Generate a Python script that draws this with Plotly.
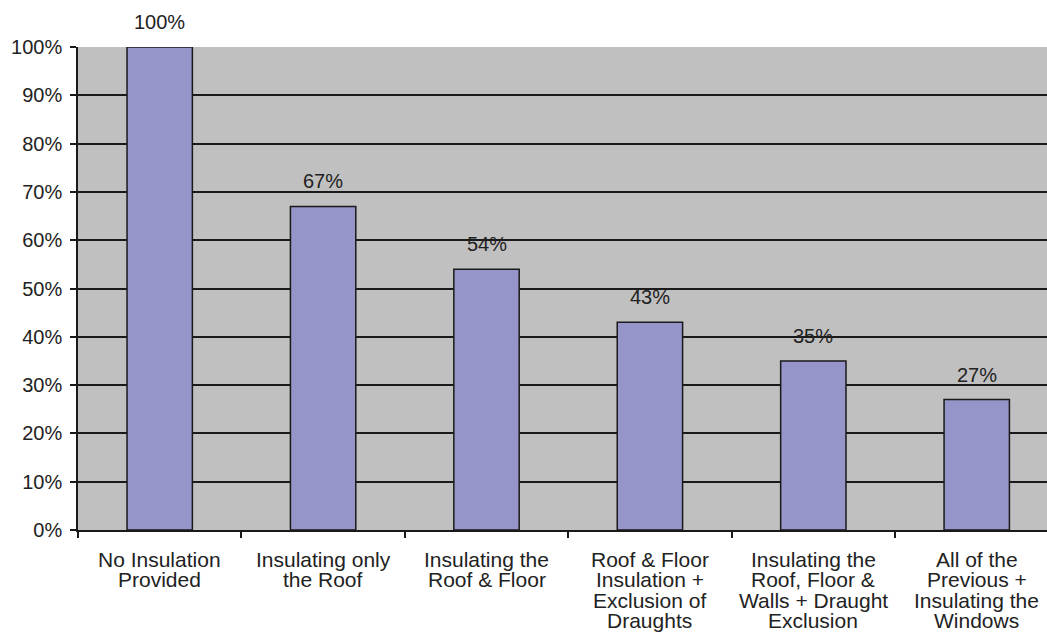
import plotly.graph_objects as go

# Category names, one list entry per printed line
category_lines = [
    ["No Insulation", "Provided"],
    ["Insulating only", "the Roof"],
    ["Insulating the", "Roof & Floor"],
    ["Roof & Floor", "Insulation +", "Exclusion of", "Draughts"],
    ["Insulating the", "Roof, Floor &", "Walls + Draught", "Exclusion"],
    ["All of the", "Previous +", "Insulating the", "Windows"],
]
categories = [" ".join(lines) for lines in category_lines]
values = [1.00, 0.67, 0.54, 0.43, 0.35, 0.27]
value_labels = ["100%", "67%", "54%", "43%", "35%", "27%"]
y_ticks = [0, 0.1, 0.2, 0.3, 0.4, 0.5, 0.6, 0.7, 0.8, 0.9, 1.0]
y_tick_labels = ["0%", "10%", "20%", "30%", "40%", "50%", "60%", "70%", "80%", "90%", "100%"]

family = "Liberation Sans, Arial, sans-serif"
ink = "#222222"
font = dict(family=family, size=20, color=ink)
cat_font = dict(family=family, size=21, color=ink)
line_color = "#1a1a1a"

fig = go.Figure(
    go.Bar(
        x=categories,
        y=values,
        width=0.4,
        marker=dict(color="#9595C9", line=dict(color=line_color, width=1.5)),
    )
)

# Value labels above each bar
for cat, val, lab in zip(categories, values, value_labels):
    fig.add_annotation(
        x=cat, y=val, text=lab, showarrow=False,
        yanchor="middle", yshift=25, font=font,
    )

# Multi-line category labels with tight line spacing
line_step = 20.5
for cat, lines in zip(categories, category_lines):
    for i, line in enumerate(lines):
        fig.add_annotation(
            x=cat, xref="x", y=0, yref="paper", text=line, showarrow=False,
            yanchor="middle", yshift=-29 - line_step * i, font=cat_font,
        )

fig.update_layout(
    width=1047,
    height=632,
    margin=dict(l=78, r=0, t=47, b=102),
    paper_bgcolor="white",
    plot_bgcolor="#C0C0C0",
    font=font,
    showlegend=False,
)

fig.update_xaxes(
    type="category",
    range=[-0.5, 5.43],
    tickson="boundaries",
    ticks="outside",
    ticklen=6,
    tickcolor=line_color,
    tickwidth=1.5,
    showticklabels=False,
    showgrid=False,
    showline=True,
    linecolor=line_color,
    linewidth=1.5,
)

fig.update_yaxes(
    range=[0, 1.0],
    tickvals=y_ticks,
    ticktext=y_tick_labels,
    ticks="outside",
    ticklen=6,
    tickcolor=line_color,
    tickwidth=1.5,
    showgrid=True,
    gridcolor=line_color,
    gridwidth=1.5,
    showline=True,
    linecolor=line_color,
    linewidth=1.5,
    zeroline=False,
    ticklabelstandoff=4,
    tickfont=font,
)

fig.write_html("out.html")
